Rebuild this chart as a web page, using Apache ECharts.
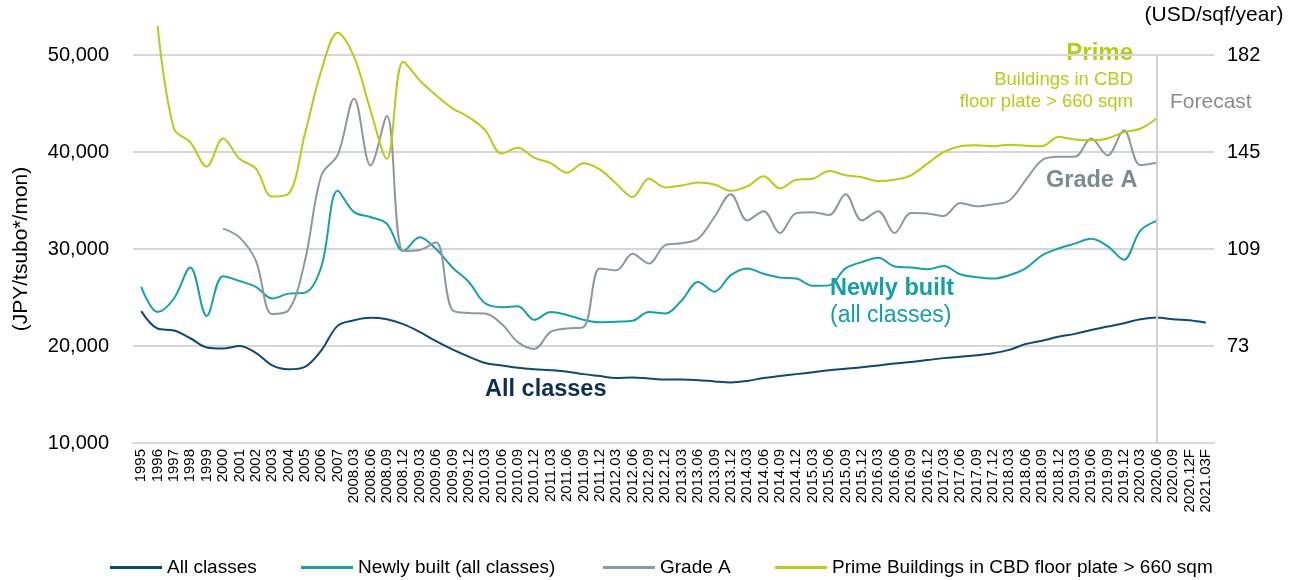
<!DOCTYPE html>
<html>
<head>
<meta charset="utf-8">
<script src="https://cdn.jsdelivr.net/npm/echarts@6/dist/echarts.min.js"></script>
<style>
  html, body { margin: 0; padding: 0; background: #fff; }
  #rent { width: 1295px; height: 580px; }
</style>
</head>
<body>
<div id="rent"></div>
<script>
var periods = ['1995', '1996', '1997', '1998', '1999', '2000', '2001', '2002', '2003', '2004', '2005', '2006', '2007',
    '2008.03', '2008.06', '2008.09', '2008.12', '2009.03', '2009.06', '2009.09', '2009.12',
    '2010.03', '2010.06', '2010.09', '2010.12', '2011.03', '2011.06', '2011.09', '2011.12',
    '2012.03', '2012.06', '2012.09', '2012.12', '2013.03', '2013.06', '2013.09', '2013.12',
    '2014.03', '2014.06', '2014.09', '2014.12', '2015.03', '2015.06', '2015.09', '2015.12',
    '2016.03', '2016.06', '2016.09', '2016.12', '2017.03', '2017.06', '2017.09', '2017.12',
    '2018.03', '2018.06', '2018.09', '2018.12', '2019.03', '2019.06', '2019.09', '2019.12',
    '2020.03', '2020.06', '2020.09', '2020.12F', '2021.03F'];

var allClasses = [23600, 21800, 21600, 20800, 19850, 19750, 20000, 19300, 18000, 17600, 17850, 19550, 22100,
    22650, 22900, 22750, 22250, 21450, 20500, 19650, 18900, 18250, 18000, 17750, 17600, 17500, 17350, 17100, 16900,
    16700, 16750, 16650, 16550, 16550, 16480, 16350, 16250, 16400, 16700, 16900, 17100, 17300, 17500, 17650, 17800,
    18000, 18200, 18350, 18550, 18750, 18900, 19050, 19250, 19600, 20200, 20550, 20950, 21250, 21650, 22000, 22350,
    22750, 22950, 22750, 22650, 22400];

var newlyBuilt = [26100, 23500, 24900, 28100, 23100, 27200, 26700, 26100, 24900, 25400, 25500, 28200, 36000,
    33800, 33300, 32600, 29800, 31200, 30000, 28100, 26600, 24400, 24000, 24100, 22700, 23500, 23200, 22700, 22450,
    22500, 22600, 23500, 23350, 24700, 26600, 25600, 27300, 28000, 27450, 27050, 26950, 26200, 26250, 28000, 28650,
    29100, 28200, 28100, 27900, 28250, 27400, 27100, 26950, 27300, 28000, 29350, 30050, 30550, 31050, 30300, 28900,
    31900, 32900, null, null, null];

var gradeA = [null, null, null, null, null, 32100, 31200, 28800, 23300, 23700, 28800, 37600, 39700,
    45500, 38600, 43700, 29800, 29900, 30700, 23700, 23400, 23350, 22300, 20400, 19700, 21450, 21800, 21950, 28000,
    27800, 29500, 28500, 30400, 30600, 31050, 33300, 35650, 32950, 33900, 31650, 33700, 33800, 33500, 35650, 32950,
    33900, 31650, 33700, 33650, 33400, 34750, 34400, 34600, 35000, 37100, 39150, 39500, 39500, 41400, 39650, 42250,
    38650, 38900, null, null, null];

var prime = [null, 53000, 42400, 41000, 38500, 41400, 39300, 38300, 35400, 35700, 41900, 48400, 52300,
    49800, 44300, 39300, 49300, 47400, 45850, 44500, 43600, 42250, 39850, 40450, 39400, 38850, 37850, 38850, 38200,
    36750, 35350, 37250, 36350, 36550, 36850, 36650, 36000, 36450, 37500, 36250, 37150, 37250, 38050, 37600, 37400,
    37000, 37150, 37600, 38800, 40000, 40600, 40700, 40600, 40750, 40650, 40600, 41550, 41300, 41200, 41400, 42050,
    42400, 43450, null, null, null];

var usdLabels = ['', '73', '109', '145', '182'];

var navy = '#0f4a6c', teal = '#17a1a7', grey = '#8d98a2', lime = '#b5cc18';
var font = 'Liberation Sans';

var chart = echarts.init(document.getElementById('rent'));

function lineSeries(name, data, color) {
    return {
        name: name,
        type: 'line',
        data: data,
        smooth: 0.35,
        clip: false,
        symbol: 'none',
        lineStyle: { color: color, width: 2 },
        itemStyle: { color: color }
    };
}

var series = [
    lineSeries('All classes', allClasses, navy),
    lineSeries('Newly built (all classes)', newlyBuilt, teal),
    lineSeries('Grade A', gradeA, grey),
    lineSeries('Prime Buildings in CBD floor plate > 660 sqm', prime, lime)
];
// forecast divider
series[0].markLine = {
    silent: true,
    symbol: 'none',
    label: { show: false },
    lineStyle: { color: '#d3cfcb', width: 2, type: 'solid' },
    data: [{ xAxis: '2020.06' }]
};

// one legend per item so each sits where the original has it
var legendLeft = [105, 296, 598, 770];
var legends = series.map(function (s, i) {
    return {
        left: legendLeft[i],
        top: 553,
        icon: 'rect',
        itemWidth: 52,
        itemHeight: 3,
        textStyle: { fontSize: 19, color: '#000' },
        data: [s.name]
    };
});

var option = {
    animation: false,
    textStyle: { fontFamily: font },
    grid: { left: 133, right: 81, top: 55, bottom: 137 },
    legend: legends,
    xAxis: {
        type: 'category',
        data: periods,
        boundaryGap: true,
        axisLine: { lineStyle: { color: '#d5d8dc', width: 2 } },
        axisTick: { show: false },
        axisLabel: { interval: 0, rotate: 90, fontSize: 15, color: '#000', margin: 6 }
    },
    yAxis: [{
        type: 'value',
        min: 10000,
        max: 50000,
        interval: 10000,
        name: '(JPY/tsubo*/mon)',
        nameLocation: 'middle',
        nameGap: 101,
        nameRotate: 90,
        nameTextStyle: { fontSize: 21, color: '#000' },
        axisLine: { show: false },
        axisTick: { show: false },
        axisLabel: {
            fontSize: 20, color: '#000', margin: 24,
            formatter: function (v) { return v.toLocaleString('en-US'); }
        },
        splitLine: { lineStyle: { color: '#d3d7dd', width: 2 } }
    }, {
        type: 'value',
        position: 'right',
        min: 10000,
        max: 50000,
        interval: 10000,
        name: '(USD/sqf/year)',
        nameLocation: 'end',
        nameGap: 29,
        nameTextStyle: { fontSize: 21, color: '#000', align: 'center' },
        axisLine: { show: false },
        axisTick: { show: false },
        splitLine: { show: false },
        axisLabel: {
            fontSize: 20, color: '#000', margin: 13,
            formatter: function (v, i) { return usdLabels[i]; }
        }
    }],
    graphic: [
        { type: 'text', right: 162, top: 41, style: { text: 'Prime', fill: lime, font: 'bold 24px ' + font, textAlign: 'right' } },
        { type: 'text', right: 162, top: 70, style: { text: 'Buildings in CBD', fill: lime, font: '18.5px ' + font, textAlign: 'right' } },
        { type: 'text', right: 162, top: 92, style: { text: 'floor plate > 660 sqm', fill: lime, font: '18.5px ' + font, textAlign: 'right' } },
        { type: 'text', left: 1170, top: 92, style: { text: 'Forecast', fill: '#8c8c8c', font: '21px ' + font } },
        { type: 'text', left: 1046, top: 169, style: { text: 'Grade A', fill: '#7b8b8f', font: 'bold 23.5px ' + font } },
        { type: 'text', left: 830, top: 277, style: { text: 'Newly built', fill: '#139fa5', font: 'bold 23.5px ' + font } },
        { type: 'text', left: 830, top: 304, style: { text: '(all classes)', fill: '#139fa5', font: '23px ' + font } },
        { type: 'text', left: 485, top: 378, style: { text: 'All classes', fill: '#0d2e4f', font: 'bold 23.5px ' + font } }
    ],
    series: series
};

chart.setOption(option);
</script>
</body>
</html>
